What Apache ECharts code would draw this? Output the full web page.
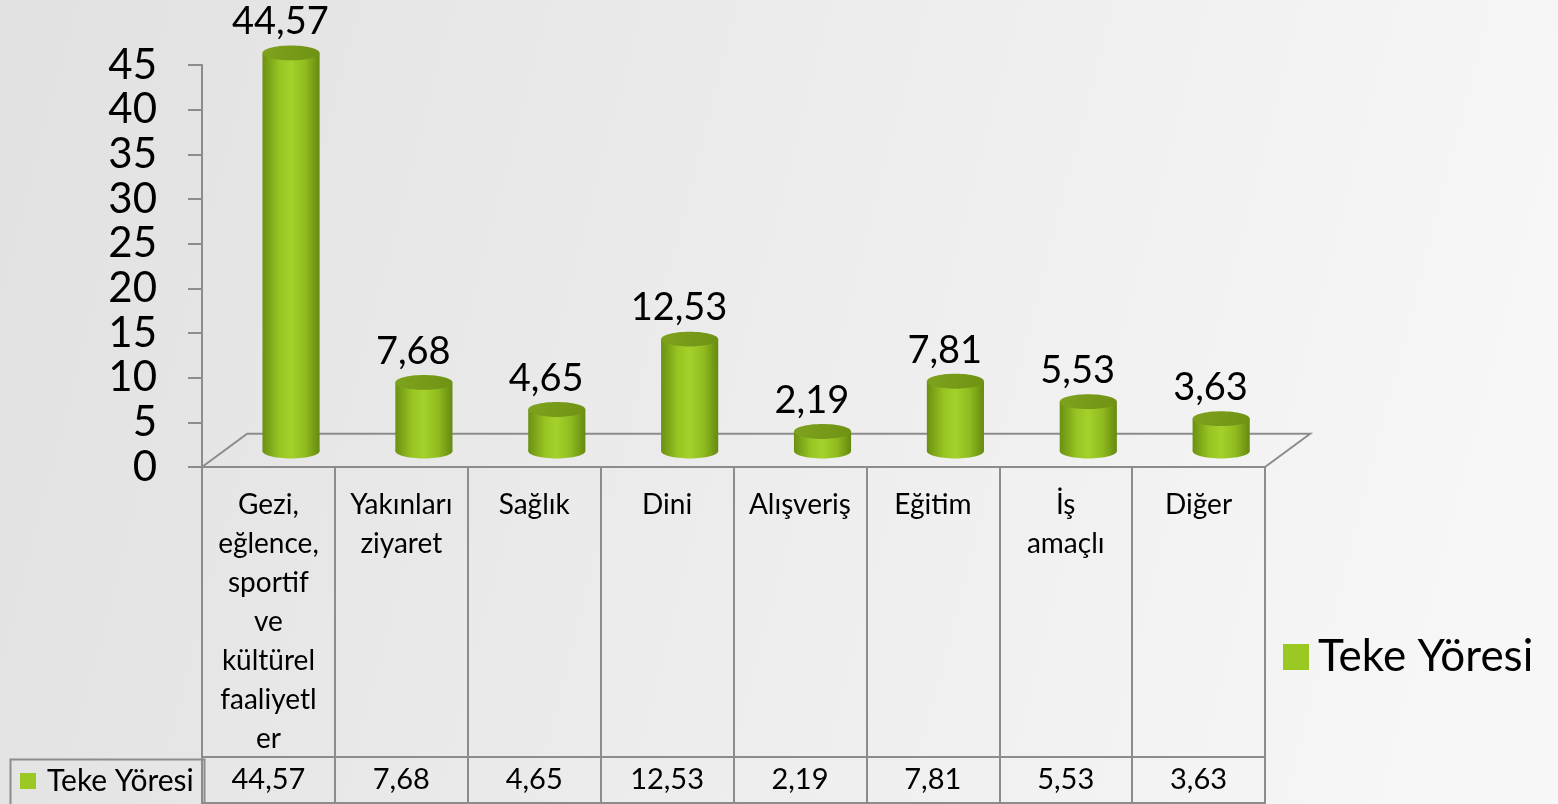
<!DOCTYPE html>
<html>
<head>
<meta charset="utf-8">
<script src="https://cdn.jsdelivr.net/npm/echarts@6/dist/echarts.min.js"></script>
<style>
    html, body { margin: 0; padding: 0; }
    #chart { width: 1558px; height: 804px; }
</style>
</head>
<body>
<div id="chart"></div>
<script>
var seriesName = 'Teke Yöresi';
var categories = ['Gezi,\neğlence,\nsportif\nve\nkültürel\nfaaliyetl\ner', 'Yakınları\nziyaret', 'Sağlık', 'Dini', 'Alışveriş', 'Eğitim', 'İş\namaçlı', 'Diğer'];
var values = [44.57, 7.68, 4.65, 12.53, 2.19, 7.81, 5.53, 3.63];
var yTicks = {min: 0, max: 45, interval: 5};

var fmt = function (v) {
    return v.toFixed(2).replace('.', ',');
};

var lineColor = '#8c8c8c';
var fontName = 'Lato';

var chart = echarts.init(document.getElementById('chart'));

// cylinder drawn on the middle depth of the 3d floor
var renderCylinder = function (params, api) {
    var idx = api.value(0);
    var top = api.coord([idx, api.value(1)]);
    var base = api.coord([idx, 0]);
    var bw = api.size([1, 0])[0];
    var w = bw * 0.43;
    var dx = bw * 0.17;
    var dy = -bw * 0.12;
    var cx = top[0] + dx;
    var yTop = top[1] + dy;
    var yBase = base[1] + dy;
    var ry = w * 0.13;
    var bodyFill = new echarts.graphic.LinearGradient(0, 0, 1, 0, [
        {offset: 0, color: '#6b9012'},
        {offset: 0.3, color: '#98c522'},
        {offset: 0.5, color: '#a5d12c'},
        {offset: 0.75, color: '#8fbb1f'},
        {offset: 1, color: '#66890f'}
    ]);
    return {
        type: 'group',
        children: [
            {type: 'ellipse', shape: {cx: cx, cy: yBase, rx: w / 2, ry: ry}, style: {fill: bodyFill}},
            {type: 'rect', shape: {x: cx - w / 2, y: yTop, width: w, height: yBase - yTop}, style: {fill: bodyFill}},
            {type: 'ellipse', shape: {cx: cx, cy: yTop, rx: w / 2, ry: ry}, style: {
                fill: new echarts.graphic.LinearGradient(0, 0, 1, 1, [
                    {offset: 0, color: '#7fa21e'},
                    {offset: 1, color: '#6f9214'}
                ])
            }},
            {type: 'text', style: {
                x: cx - bw * 0.08, y: yTop - 31, text: fmt(api.value(1)),
                align: 'center', verticalAlign: 'middle',
                fontSize: 38, fontFamily: fontName, fill: '#000'
            }}
        ]
    };
};

// floor of the 3d plot area
var renderFloor = function (params, api) {
    var cs = params.coordSys;
    var bw = cs.width / categories.length;
    var ddx = bw * 0.34;
    var ddy = bw * 0.25;
    var yb = cs.y + cs.height;
    return {
        type: 'polyline',
        shape: {points: [[cs.x, yb], [cs.x + ddx, yb - ddy], [cs.x + cs.width + ddx, yb - ddy], [cs.x + cs.width, yb]]},
        style: {stroke: lineColor, lineWidth: 2, fill: null},
        z2: 0
    };
};

var option = {
    backgroundColor: new echarts.graphic.LinearGradient(0, 0, 1, 0.5, [
        {offset: 0, color: '#e1e1e1'},
        {offset: 1, color: '#f7f7f7'}
    ]),
    animation: false,
    legend: [
        {
            data: [seriesName], left: 1278, top: 630,
            icon: 'rect', itemWidth: 26, itemHeight: 26, itemGap: 12,
            selectedMode: false,
            textStyle: {fontSize: 44, fontFamily: fontName, color: '#000', padding: [0, 0, 0, 4]}
        },
        {
            data: [seriesName], left: 15, top: 761,
            icon: 'rect', itemWidth: 16, itemHeight: 16, itemGap: 6,
            selectedMode: false,
            textStyle: {fontSize: 30, fontFamily: fontName, color: '#000', padding: [0, 0, 0, 6]}
        }
    ],
    grid: [
        {left: 202, top: 65, width: 1063, height: 402},
        {left: 202, top: 467, width: 1063, height: 290, show: true, borderColor: lineColor, borderWidth: 2},
        {left: 202, top: 757, width: 1063, height: 46, show: true, borderColor: lineColor, borderWidth: 2}
    ],
    xAxis: [
        {
            gridIndex: 0, type: 'category', data: categories,
            axisLine: {show: false}, axisTick: {show: false}, axisLabel: {show: false}
        },
        {
            gridIndex: 1, type: 'category', data: categories, position: 'top',
            axisLine: {show: false}, axisTick: {show: false},
            splitLine: {show: true, interval: 0, lineStyle: {color: lineColor, width: 2}},
            axisLabel: {
                inside: true, interval: 0, margin: 18,
                fontSize: 28, lineHeight: 39, fontFamily: fontName, color: '#000'
            }
        },
        {
            gridIndex: 2, type: 'category', data: values.map(fmt), position: 'top',
            axisLine: {show: false}, axisTick: {show: false},
            splitLine: {show: true, interval: 0, lineStyle: {color: lineColor, width: 2}},
            axisLabel: {
                inside: true, interval: 0, margin: 7,
                fontSize: 29, lineHeight: 32, fontFamily: fontName, color: '#000'
            }
        }
    ],
    yAxis: [
        {
            gridIndex: 0, type: 'value', min: yTicks.min, max: yTicks.max, interval: yTicks.interval,
            axisLine: {show: true, lineStyle: {color: lineColor, width: 2}},
            axisTick: {show: true, length: 14, lineStyle: {color: lineColor, width: 2}},
            splitLine: {show: false},
            axisLabel: {margin: 45, fontSize: 42, fontFamily: fontName, color: '#000'}
        },
        {gridIndex: 1, type: 'value', show: false},
        {gridIndex: 2, type: 'value', show: false}
    ],
    series: [
        {
            type: 'custom', name: 'floor', xAxisIndex: 0, yAxisIndex: 0,
            renderItem: renderFloor, data: [[0, 0]], silent: true, z: 1
        },
        {
            type: 'custom', name: seriesName, xAxisIndex: 0, yAxisIndex: 0,
            itemStyle: {color: '#9ac923'},
            renderItem: renderCylinder,
            data: values.map(function (v, i) { return [i, v]; }),
            z: 2
        }
    ],
    graphic: [
        {
            type: 'rect', left: 8, top: 757,
            shape: {width: 194, height: 46},
            style: {fill: null, stroke: lineColor, lineWidth: 2}
        }
    ]
};

chart.setOption(option);
</script>
</body>
</html>
